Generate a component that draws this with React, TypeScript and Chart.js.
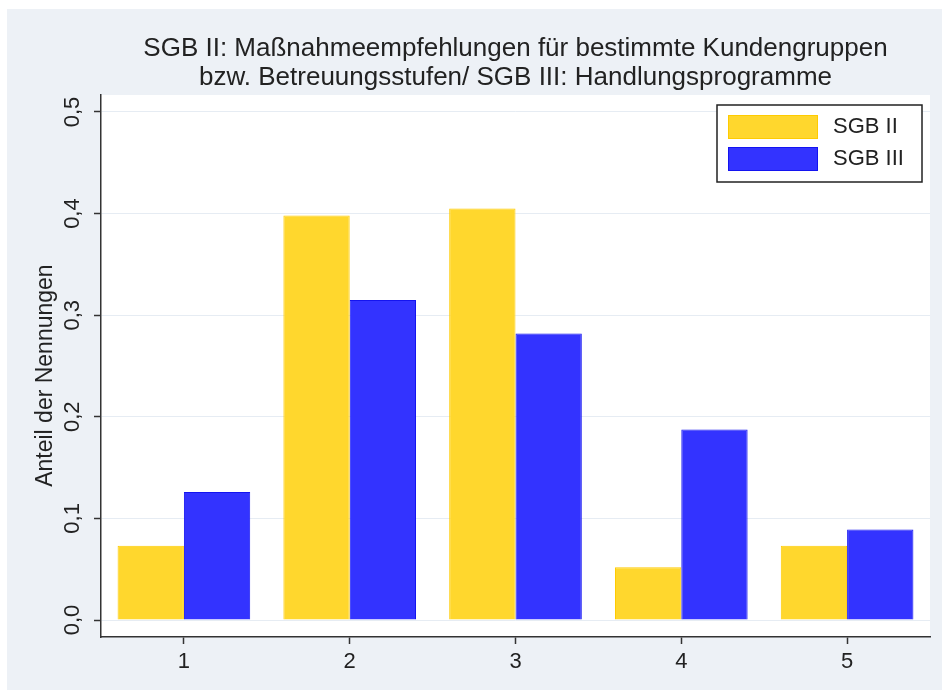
import React, { useEffect, useRef } from 'react';
import { Chart, registerables } from 'chart.js';

Chart.register(...registerables);

const categories = ['1', '2', '3', '4', '5'];
const seriesLabels = ['SGB II', 'SGB III'];
const sgb2Values = [0.073, 0.398, 0.405, 0.052, 0.073];
const sgb3Values = [0.126, 0.315, 0.282, 0.1875, 0.089];
const yTickValues = [0, 0.1, 0.2, 0.3, 0.4, 0.5];
const yTickLabels = ['0,0', '0,1', '0,2', '0,3', '0,4', '0,5'];
const titleLines = [
  'SGB II: Maßnahmeempfehlungen für bestimmte Kundengruppen',
  'bzw. Betreuungsstufen/ SGB III: Handlungsprogramme',
];
const yAxisTitle = 'Anteil der Nennungen';

const FONT = '"Liberation Sans", Arial, Helvetica, sans-serif';
const BG = '#EDF1F6';
const GRID = '#E6ECF3';
const AXIS = '#333333';
const TEXT = '#222222';
const YELLOW = 'rgb(255, 215, 45)';
const YELLOW_BORDER = 'rgb(255, 203, 0)';
const BLUE = 'rgb(51, 51, 255)';
const BLUE_BORDER = 'rgb(20, 20, 240)';

const backgroundPlugin = {
  id: 'bgFill',
  beforeDraw(chart: any) {
    const { ctx, chartArea, width, height } = chart;
    ctx.save();
    ctx.fillStyle = BG;
    ctx.fillRect(0, 0, width, height);
    ctx.fillStyle = '#ffffff';
    ctx.fillRect(chartArea.left, chartArea.top, chartArea.right - chartArea.left, chartArea.bottom - chartArea.top);
    ctx.restore();
  },
};

const legendBoxPlugin = {
  id: 'boxLegend',
  afterDraw(chart: any) {
    const { ctx, chartArea } = chart;
    const w = 205;
    const h = 77;
    const right = chartArea.right - 8;
    const top = chartArea.top + 10;
    const left = right - w;
    ctx.save();
    ctx.fillStyle = '#ffffff';
    ctx.fillRect(left, top, w, h);
    ctx.strokeStyle = TEXT;
    ctx.lineWidth = 1.5;
    ctx.strokeRect(left, top, w, h);
    chart.data.datasets.forEach((ds: any, i: number) => {
      const sy = top + 10 + i * 32;
      ctx.fillStyle = ds.backgroundColor;
      ctx.fillRect(left + 11, sy, 90, 24);
      ctx.strokeStyle = ds.borderColor;
      ctx.lineWidth = 1;
      ctx.strokeRect(left + 11.5, sy + 0.5, 89, 23);
      ctx.fillStyle = TEXT;
      ctx.font = `22px ${FONT}`;
      ctx.textBaseline = 'middle';
      ctx.textAlign = 'left';
      ctx.fillText(ds.label, left + 116, sy + 12);
    });
    ctx.restore();
  },
};

export default function App() {
  const canvasRef = useRef<HTMLCanvasElement | null>(null);

  useEffect(() => {
    if (!canvasRef.current) return;
    const chart = new Chart(canvasRef.current, {
      type: 'bar',
      data: {
        labels: categories,
        datasets: [
          {
            label: seriesLabels[0],
            data: sgb2Values,
            backgroundColor: YELLOW,
            borderColor: YELLOW_BORDER,
            borderWidth: 1,
            barPercentage: 1.0,
            categoryPercentage: 0.8,
          },
          {
            label: seriesLabels[1],
            data: sgb3Values,
            backgroundColor: BLUE,
            borderColor: BLUE_BORDER,
            borderWidth: 1,
            barPercentage: 1.0,
            categoryPercentage: 0.8,
          },
        ],
      },
      options: {
        responsive: false,
        animation: false,
        devicePixelRatio: 1,
        layout: { padding: { left: 0, right: 12, top: 0, bottom: 0 } },
        plugins: {
          legend: { display: false },
          tooltip: { enabled: false },
          title: {
            display: true,
            text: titleLines,
            fullSize: false,
            color: TEXT,
            font: { family: FONT, size: 26, weight: 'normal', lineHeight: '29.5px' },
            padding: { top: 25, bottom: 2 },
          },
        },
        scales: {
          x: {
            type: 'category',
            offset: true,
            grid: {
              offset: false,
              drawOnChartArea: false,
              drawTicks: true,
              tickLength: 7,
              tickColor: AXIS,
              tickWidth: 1.5,
            },
            border: { display: true, color: AXIS, width: 1.5 },
            ticks: {
              color: TEXT,
              font: { family: FONT, size: 22 },
              padding: 5,
              maxRotation: 0,
              minRotation: 0,
            },
            afterFit(scale: any) {
              scale.height = 53;
            },
          },
          y: {
            type: 'linear',
            min: -0.0167,
            max: 0.5167,
            afterBuildTicks(scale: any) {
              scale.ticks = yTickValues.map((v) => ({ value: v }));
            },
            grid: {
              color: GRID,
              lineWidth: 1,
              drawTicks: true,
              tickLength: 7,
              tickColor: AXIS,
              tickWidth: 1.5,
            },
            border: { display: true, color: AXIS, width: 1.5 },
            ticks: {
              color: TEXT,
              font: { family: FONT, size: 22 },
              padding: 6,
              minRotation: 90,
              maxRotation: 90,
              crossAlign: 'center',
              callback: (value: any) => {
                const idx = yTickValues.findIndex((v) => Math.abs(v - Number(value)) < 1e-9);
                return idx >= 0 ? yTickLabels[idx] : '';
              },
            },
            title: {
              display: true,
              text: yAxisTitle + '\u00A0\u00A0\u00A0',
              color: TEXT,
              font: { family: FONT, size: 23 },
              padding: { top: 25, bottom: 0 },
            },
            afterFit(scale: any) {
              scale.width = 94;
            },
          },
        },
      },
      plugins: [backgroundPlugin, legendBoxPlugin],
    } as any);
    return () => chart.destroy();
  }, []);

  return (
    <div style={{ position: 'absolute', left: 7, top: 9, width: 935, height: 681 }}>
      <canvas ref={canvasRef} width={935} height={681} style={{ display: 'block', width: 935, height: 681 }} />
    </div>
  );
}
